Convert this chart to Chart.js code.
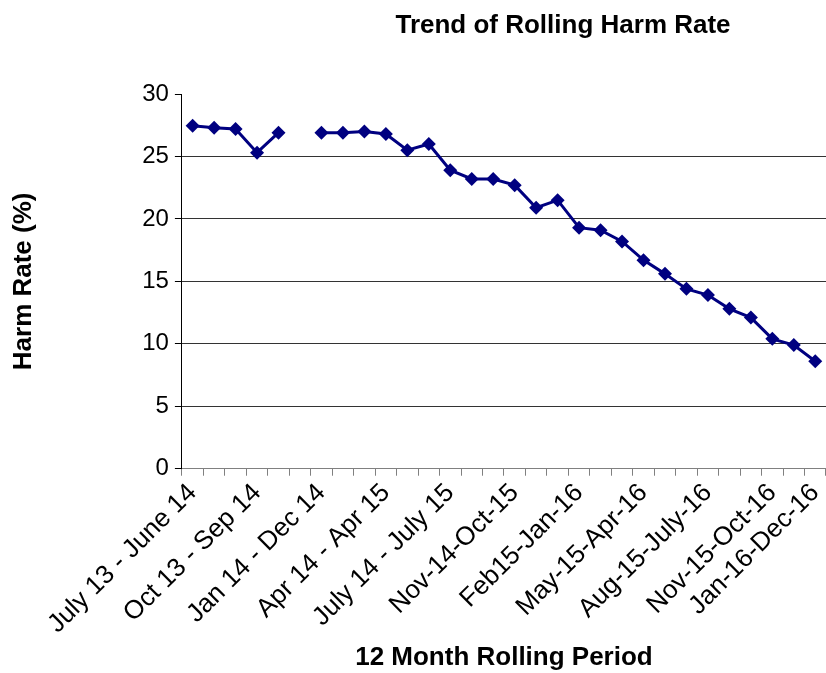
<!DOCTYPE html>
<html>
<head>
<meta charset="utf-8">
<script src="https://cdn.jsdelivr.net/npm/chart.js@4"></script>
<style>
  html, body { margin: 0; padding: 0; background: #fff; }
  #wrap { width: 826px; height: 673px; position: relative; }
</style>
</head>
<body>
<div id="wrap"><canvas id="chart"></canvas></div>
<script>
// 12 month rolling periods (only every third one is labelled on the axis)
const periods = [
    'July 13 - June 14', '', '', 'Oct 13 - Sep 14', '', '',
    'Jan 14 - Dec 14', '', '', 'Apr 14 - Apr 15', '', '',
    'July 14 - July 15', '', '', 'Nov-14-Oct-15', '', '',
    'Feb15-Jan-16', '', '', 'May-15-Apr-16', '', '',
    'Aug-15-July-16', '', '', 'Nov-15-Oct-16', '', 'Jan-16-Dec-16'
];

// harm rate (%), null = missing period
const harmRate = [
    27.45, 27.3, 27.2, 25.3, 26.9, null,
    26.9, 26.9, 27.0, 26.8, 25.5, 26.0,
    23.9, 23.2, 23.2, 22.7, 20.9, 21.5,
    19.3, 19.1, 18.2, 16.7, 15.6, 14.4,
    13.9, 12.8, 12.1, 10.4, 9.9, 8.6
];

const yTicks = [0, 5, 10, 15, 20, 25, 30];

const FONT = "Arial, 'Liberation Sans', sans-serif";
const navy = '#000080';

// title drawn centred over the right part of the canvas like the original
const titlePlugin = {
    id: 'sheetTitle',
    afterDraw(chart) {
        const ctx = chart.ctx;
        ctx.save();
        ctx.font = 'bold 26px ' + FONT;
        ctx.fillStyle = '#000';
        ctx.textAlign = 'center';
        ctx.textBaseline = 'middle';
        ctx.fillText('Trend of Rolling Harm Rate', 563, 26);
        ctx.restore();
    }
};

new Chart(document.getElementById('chart'), {
    type: 'line',
    data: {
        labels: periods,
        datasets: [{
            data: harmRate,
            borderColor: navy,
            backgroundColor: navy,
            borderWidth: 3,
            pointStyle: 'rectRot',
            pointRadius: 7,
            pointBorderWidth: 0,
            pointBackgroundColor: navy,
            spanGaps: false,
            tension: 0
        }]
    },
    options: {
        responsive: true,
        maintainAspectRatio: false,
        animation: false,
        layout: {
            autoPadding: false,
            padding: { top: 94, left: 8, right: 0, bottom: 0 }
        },
        plugins: {
            legend: { display: false },
            tooltip: { enabled: false }
        },
        scales: {
            x: {
                offset: true,
                // plot runs right up to the canvas edge in the original
                afterFit(scale) {
                    scale.paddingRight = 0;
                    scale.paddingLeft = 0;
                },
                grid: {
                    offset: true,
                    drawOnChartArea: false,
                    tickLength: 7,
                    color: '#808080'
                },
                border: { color: '#808080', width: 1 },
                ticks: {
                    autoSkip: false,
                    minRotation: 45,
                    maxRotation: 45,
                    color: '#000',
                    padding: 2,
                    font: { family: FONT, size: 26 }
                },
                title: {
                    display: true,
                    text: '12 Month Rolling Period',
                    color: '#000',
                    padding: { top: 0, bottom: 0 },
                    font: { family: FONT, size: 26, weight: 'bold' }
                }
            },
            y: {
                min: 0,
                max: 30,
                afterBuildTicks(axis) {
                    axis.ticks = yTicks.map(v => ({ value: v }));
                },
                grid: {
                    tickLength: 7,
                    tickColor: '#000',
                    color: ctx => (ctx.tick && (ctx.tick.value === 0 || ctx.tick.value === 30)) ? 'rgba(0,0,0,0)' : '#333'
                },
                border: { color: '#000', width: 1 },
                ticks: {
                    color: '#000',
                    padding: 6,
                    font: { family: FONT, size: 24 }
                },
                title: {
                    display: true,
                    text: 'Harm Rate (%)',
                    color: '#000',
                    padding: { top: 0, bottom: 97 },
                    font: { family: FONT, size: 26, weight: 'bold' }
                }
            }
        }
    },
    plugins: [titlePlugin]
});
</script>
</body>
</html>
